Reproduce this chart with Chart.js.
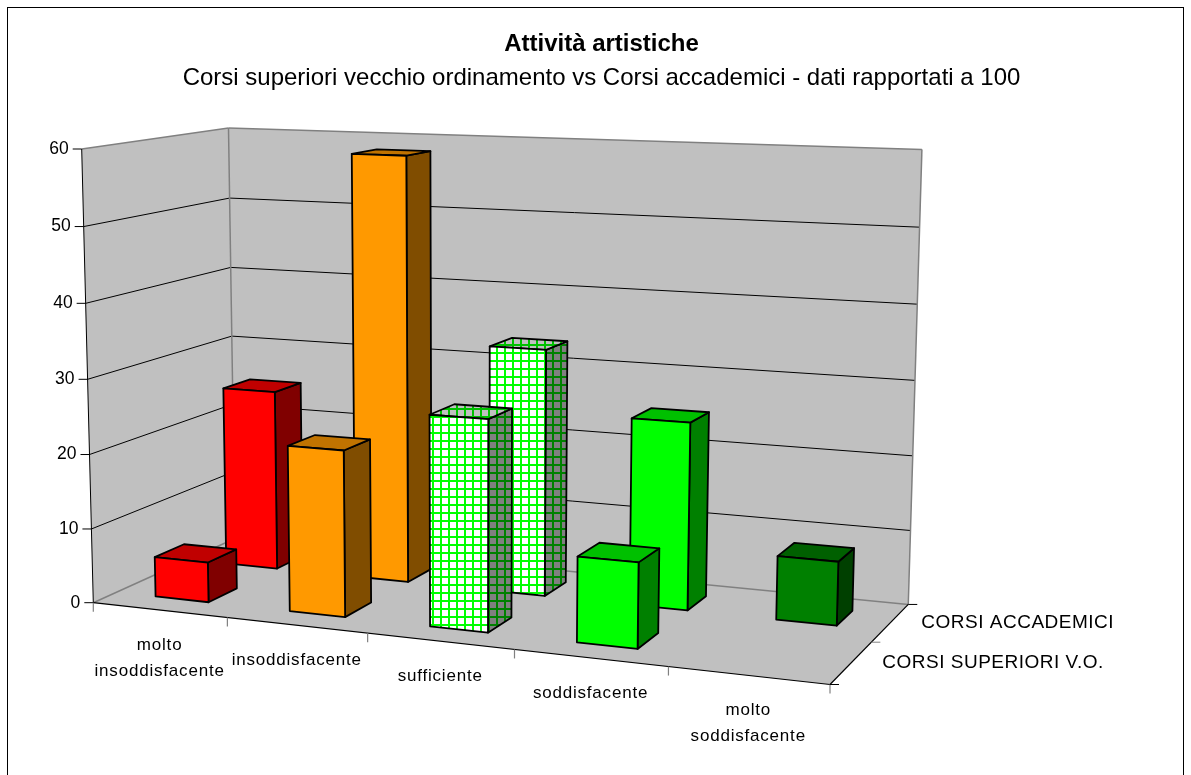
<!DOCTYPE html>
<html>
<head>
<meta charset="utf-8">
<script src="https://cdn.jsdelivr.net/npm/chart.js@4"></script>
<style>
  html, body { margin: 0; padding: 0; background: #fff; overflow: hidden; }
</style>
</head>
<body>
<canvas id="myChart" width="1191" height="775"></canvas>
<script>
const categories = [['molto', 'insoddisfacente'], 'insoddisfacente', 'sufficiente', 'soddisfacente', ['molto', 'soddisfacente']];
const seriesNames = ['CORSI SUPERIORI V.O.', 'CORSI ACCADEMICI'];
const corsiSuperiori = [5.4, 22, 27.5, 11, 0];
const corsiAccademici = [25, 58.2, 33.3, 25, 8.4];
const valueTicks = { min: 0, max: 60, stepSize: 10 };

const font = 'Liberation Sans, Arial, sans-serif';

// face colours per category: front, side, top
const faces = [
    ['#ff0000', '#800000', '#c00000'],
    ['#ff9900', '#804d00', '#c07300'],
    null, // hatched, see hatch()
    ['#00ff00', '#008000', '#00c000'],
    ['#008000', '#004000', '#006000'],
];

function hatch(ctx, line, cell) {
    const c = document.createElement('canvas');
    c.width = c.height = 8;
    const g = c.getContext('2d');
    g.fillStyle = cell;
    g.fillRect(0, 0, 8, 8);
    g.fillStyle = line;
    g.fillRect(0, 0, 8, 2);
    g.fillRect(0, 0, 2, 8);
    return ctx.createPattern(c, 'repeat');
}

// perspective box: images of the origin and of the three axis ends, with their weights
const O = [93.3, 602.7];
const U = [830, 684.5], a = 0.89;
const V = [235, 538.5], b = 1.107;
const W = [81.7, 149], c = 0.97;

function project(u, v, w) {
    const d = 1 + u * (a - 1) + v * (b - 1) + w * (c - 1);
    return [0, 1].map(i => (O[i] + u * (a * U[i] - O[i]) + v * (b * V[i] - O[i]) + w * (c * W[i] - O[i])) / d);
}

function poly(ctx, pts, fill, stroke, lw) {
    ctx.beginPath();
    pts.forEach((p, i) => i ? ctx.lineTo(p[0], p[1]) : ctx.moveTo(p[0], p[1]));
    ctx.closePath();
    if (fill) { ctx.fillStyle = fill; ctx.fill(); }
    if (stroke) { ctx.strokeStyle = stroke; ctx.lineWidth = lw || 1; ctx.stroke(); }
}

function seg(ctx, p, q, col, lw) {
    ctx.beginPath();
    ctx.moveTo(p[0], p[1]);
    ctx.lineTo(q[0], q[1]);
    ctx.strokeStyle = col;
    ctx.lineWidth = lw || 1;
    ctx.stroke();
}

function label(ctx, text, x, y, align, size, spacing) {
    ctx.font = size + 'px ' + font;
    ctx.letterSpacing = spacing + 'px';
    ctx.textAlign = align;
    ctx.textBaseline = 'middle';
    ctx.fillStyle = '#000';
    ctx.fillText(text, x, y);
    ctx.letterSpacing = '0px';
}

const box3d = {
    id: 'box3d',
    beforeDraw(chart) {
        const ctx = chart.ctx;
        ctx.save();
        ctx.fillStyle = '#fff';
        ctx.fillRect(0, 0, chart.width, chart.height);
        ctx.strokeStyle = '#000';
        ctx.lineWidth = 1;
        ctx.strokeRect(7.5, 7.5, 1176, 790);
        ctx.restore();
    },
    beforeDatasetsDraw(chart) {
        const ctx = chart.ctx;
        const xs = chart.scales.x, ys = chart.scales.y, zs = chart.scales.z;
        const toU = px => (px - xs.left) / xs.width;
        const toV = py => (py - zs.top) / zs.height;
        const toW = py => (ys.bottom - py) / ys.height;

        ctx.save();
        ctx.lineJoin = 'round';

        // walls and floor
        const wall = '#c0c0c0', edge = '#808080';
        poly(ctx, [project(0, 0, 0), project(1, 0, 0), project(1, 1, 0), project(0, 1, 0)], wall);
        poly(ctx, [project(0, 0, 0), project(0, 1, 0), project(0, 1, 1), project(0, 0, 1)], wall);
        poly(ctx, [project(0, 1, 0), project(1, 1, 0), project(1, 1, 1), project(0, 1, 1)], wall);

        ys.ticks.forEach(t => {
            const w = toW(ys.getPixelForValue(t.value));
            const isEnd = t.value === valueTicks.min || t.value === valueTicks.max;
            const col = isEnd ? edge : '#000';
            seg(ctx, project(0, 0, w), project(0, 1, w), col, isEnd ? 1.5 : 1);
            seg(ctx, project(0, 1, w), project(1, 1, w), col, isEnd ? 1.5 : 1);
            const p = project(0, 0, w);
            seg(ctx, [p[0] - 9, p[1]], p, '#000');
            label(ctx, t.label, p[0] - 13, p[1], 'right', 17.5, 0);
        });
        seg(ctx, project(0, 1, 0), project(0, 1, 1), edge, 1.5);
        seg(ctx, project(1, 1, 0), project(1, 1, 1), edge, 1.5);
        seg(ctx, project(0, 0, 0), project(0, 0, 1), '#000');
        seg(ctx, project(0, 0, 0), project(1, 0, 0), '#000', 1.2);
        seg(ctx, project(1, 0, 0), project(1, 1, 0), '#000', 1.2);

        // category ticks and labels along the front edge
        xs.ticks.forEach((t, i) => {
            const p = project(i / xs.ticks.length, 0, 0);
            seg(ctx, p, [p[0], p[1] + 9], '#808080', 1.2);
            const mid = project(toU(xs.getPixelForValue(i)), 0, 0);
            const lines = [].concat(categories[i]);
            lines.forEach((txt, k) => label(ctx, txt, mid[0], mid[1] + 35 + k * 26, 'center', 17, 0.8));
        });
        const last = project(1, 0, 0);
        seg(ctx, last, [last[0], last[1] + 9], '#808080', 1.2);

        // depth ticks and labels along the right edge
        [0, 0.5, 1].forEach(v => {
            const p = project(1, v, 0);
            seg(ctx, p, [p[0] + 9, p[1]], v === 0.5 ? '#808080' : '#000');
        });
        seriesNames.forEach((name, i) => {
            const p = project(1, toV(zs.getPixelForValue(i)), 0);
            label(ctx, name, p[0] + 31, p[1], 'left', 19, 0.5);
        });

        // bars: back row first, each row left to right
        const depth = 0.2;
        for (let d = chart.data.datasets.length - 1; d >= 0; d--) {
            const vc = toV(zs.getPixelForValue(d));
            const v0 = vc - depth / 2, v1 = vc + depth / 2;
            chart.getDatasetMeta(d).data.forEach((bar, i) => {
                if (!chart.data.datasets[d].data[i]) return;
                const u0 = toU(bar.x - bar.width / 2), u1 = toU(bar.x + bar.width / 2);
                const w = toW(bar.y);
                const cols = faces[i] || [
                    hatch(ctx, '#00ff00', '#ffffff'),
                    hatch(ctx, '#008000', '#808080'),
                    hatch(ctx, '#00c000', '#c0c0c0'),
                ];
                poly(ctx, [project(u1, v0, 0), project(u1, v1, 0), project(u1, v1, w), project(u1, v0, w)], cols[1], '#000', 1.8);
                poly(ctx, [project(u0, v0, w), project(u1, v0, w), project(u1, v1, w), project(u0, v1, w)], cols[2], '#000', 1.8);
                poly(ctx, [project(u0, v0, 0), project(u1, v0, 0), project(u1, v0, w), project(u0, v0, w)], cols[0], '#000', 1.8);
            });
        }
        ctx.restore();
        return false; // native flat bars are replaced by the projected ones
    },
};

new Chart(document.getElementById('myChart'), {
    type: 'bar',
    data: {
        labels: categories,
        datasets: [
            { label: seriesNames[0], data: corsiSuperiori },
            { label: seriesNames[1], data: corsiAccademici },
        ],
    },
    plugins: [box3d],
    options: {
        responsive: false,
        animation: false,
        grouped: false,
        barPercentage: 0.4,
        categoryPercentage: 1,
        layout: { padding: { top: 30, left: 112, right: 100, bottom: 100 } },
        scales: {
            x: { offset: true, grid: { display: false }, border: { display: false }, ticks: { display: false } },
            y: { min: valueTicks.min, max: valueTicks.max, ticks: { stepSize: valueTicks.stepSize, display: false }, grid: { display: false }, border: { display: false } },
            z: { type: 'category', axis: 'y', labels: seriesNames, offset: true, display: false },
        },
        plugins: {
            legend: { display: false },
            tooltip: { enabled: false },
            title: {
                display: true,
                text: 'Attività artistiche',
                color: '#000',
                font: { family: font, size: 24, weight: 'bold' },
                padding: { top: 0, bottom: 5 },
            },
            subtitle: {
                display: true,
                text: 'Corsi superiori vecchio ordinamento vs Corsi accademici - dati rapportati a 100',
                color: '#000',
                font: { family: font, size: 24, weight: 'normal' },
                padding: { bottom: 10 },
            },
        },
    },
});
</script>
</body>
</html>
